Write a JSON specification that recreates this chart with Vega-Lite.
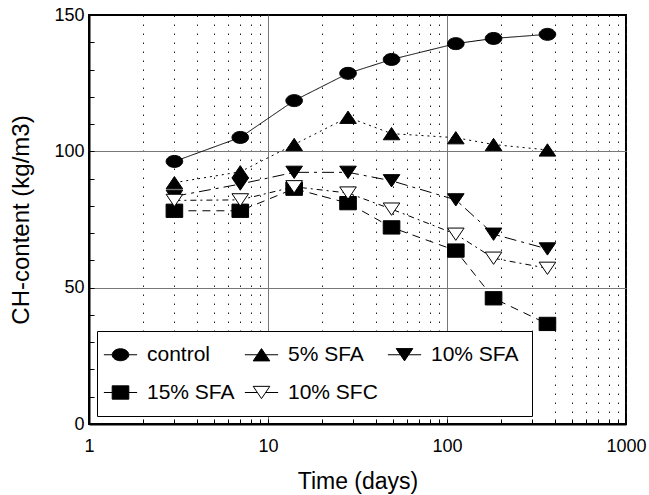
{
  "$schema": "https://vega.github.io/schema/vega-lite/v6.json",
  "width": 537,
  "height": 409,
  "autosize": {"type": "none"},
  "padding": {"left": 89, "top": 15, "right": 23, "bottom": 71},
  "background": "white",
  "config": {
    "font": "Liberation Sans",
    "view": {"stroke": "black", "strokeWidth": 2},
    "axis": {
      "labelFont": "Liberation Sans",
      "titleFont": "Liberation Sans",
      "labelColor": "black",
      "titleColor": "black",
      "labelFontSize": 18,
      "titleFontSize": 23,
      "titleFontWeight": "normal",
      "domainColor": "black",
      "domainWidth": 2,
      "tickColor": "black"
    },
    "legend": {
      "labelFont": "Liberation Sans",
      "labelFontSize": 21,
      "labelColor": "black",
      "title": null,
      "orient": "bottom-left",
      "offset": 8,
      "direction": "horizontal",
      "columns": 3,
      "strokeColor": "black",
      "fillColor": "white",
      "padding": 13,
      "rowPadding": 16,
      "columnPadding": 7,
      "labelOffset": 16,
      "symbolSize": 276,
      "symbolStrokeColor": "black",
      "symbolStrokeWidth": 1
    }
  },
  "data": {
    "values": [
      {"series": "control", "day": 3, "value": 96.3},
      {"series": "control", "day": 7, "value": 105.1},
      {"series": "control", "day": 14, "value": 118.6},
      {"series": "control", "day": 28, "value": 128.6},
      {"series": "control", "day": 49, "value": 133.7},
      {"series": "control", "day": 112, "value": 139.5},
      {"series": "control", "day": 182, "value": 141.4},
      {"series": "control", "day": 364, "value": 142.9},
      {"series": "5% SFA", "day": 3, "value": 88.5},
      {"series": "5% SFA", "day": 7, "value": 92.5},
      {"series": "5% SFA", "day": 14, "value": 102.5},
      {"series": "5% SFA", "day": 28, "value": 112.5},
      {"series": "5% SFA", "day": 49, "value": 106.5},
      {"series": "5% SFA", "day": 112, "value": 105},
      {"series": "5% SFA", "day": 182, "value": 102.5},
      {"series": "5% SFA", "day": 364, "value": 100.5},
      {"series": "10% SFA", "day": 3, "value": 83.5},
      {"series": "10% SFA", "day": 7, "value": 88},
      {"series": "10% SFA", "day": 14, "value": 92.3},
      {"series": "10% SFA", "day": 28, "value": 92.3},
      {"series": "10% SFA", "day": 49, "value": 89.2},
      {"series": "10% SFA", "day": 112, "value": 82.2},
      {"series": "10% SFA", "day": 182, "value": 69.6},
      {"series": "10% SFA", "day": 364, "value": 64.2},
      {"series": "15% SFA", "day": 3, "value": 78.2},
      {"series": "15% SFA", "day": 7, "value": 78.2},
      {"series": "15% SFA", "day": 14, "value": 86.3},
      {"series": "15% SFA", "day": 28, "value": 81},
      {"series": "15% SFA", "day": 49, "value": 72.1},
      {"series": "15% SFA", "day": 112, "value": 63.6},
      {"series": "15% SFA", "day": 182, "value": 46.1},
      {"series": "15% SFA", "day": 364, "value": 36.7},
      {"series": "10% SFC", "day": 3, "value": 82},
      {"series": "10% SFC", "day": 7, "value": 82.2},
      {"series": "10% SFC", "day": 14, "value": 87},
      {"series": "10% SFC", "day": 28, "value": 84.7},
      {"series": "10% SFC", "day": 49, "value": 78.8},
      {"series": "10% SFC", "day": 112, "value": 69.6},
      {"series": "10% SFC", "day": 182, "value": 60.8},
      {"series": "10% SFC", "day": 364, "value": 57.1}
    ]
  },
  "encoding": {
    "x": {
      "field": "day",
      "type": "quantitative",
      "scale": {"type": "log", "domain": [1, 1000], "nice": false},
      "axis": {
        "title": "Time (days)",
        "titlePadding": 15,
        "values": [1,2,3,4,5,6,7,8,9,10,20,30,40,50,60,70,80,90,100,200,300,400,500,600,700,800,900,1000],
        "labelExpr": "(datum.value == 1 || datum.value == 10 || datum.value == 100 || datum.value == 1000) ? datum.value : ''",
        "labelPadding": 18,
        "labelFlush": false,
        "labelOverlap": false,
        "tickSize": -5,
        "grid": true,
        "gridColor": {"condition": {"test": "datum.value == 10 || datum.value == 100", "value": "#777777"}, "value": "#222222"},
        "gridDash": {"condition": {"test": "datum.value == 10 || datum.value == 100", "value": []}, "value": [1.5, 7.5]},
        "gridWidth": 1
      }
    },
    "y": {
      "field": "value",
      "type": "quantitative",
      "scale": {"domain": [0, 150], "nice": false},
      "axis": {
        "title": "CH-content (kg/m3)",
        "titleFontSize": 24,
        "titlePadding": 20,
        "values": [0,10,20,30,40,50,60,70,80,90,100,110,120,130,140,150],
        "labelExpr": "datum.value % 50 == 0 ? datum.label : ''",
        "labelPadding": 10,
        "labelFlush": false,
        "labelOverlap": false,
        "tickSize": -5,
        "grid": true,
        "gridColor": "#777777",
        "gridOpacity": {"condition": {"test": "datum.value == 50 || datum.value == 100", "value": 1}, "value": 0}
      }
    }
  },
  "resolve": {"scale": {"shape": "independent", "fill": "independent", "stroke": "independent"}},
  "layer": [
    {
      "mark": {"type": "line", "color": "black", "strokeWidth": 1},
      "encoding": {
        "strokeDash": {
          "field": "series",
          "type": "nominal",
          "scale": {
            "domain": ["10% SFA", "10% SFC", "15% SFA", "5% SFA", "control"],
            "range": [[12, 5, 3, 5], [6, 4, 2, 4], [8, 6], [2, 4], [1, 0]]
          },
          "legend": null
        }
      }
    },
    {
      "mark": {"type": "point", "filled": true, "stroke": "black", "strokeWidth": 1, "opacity": 1, "size": 276},
      "encoding": {
        "shape": {
          "field": "series",
          "type": "nominal",
          "scale": {
            "domain": ["control", "5% SFA", "10% SFA", "15% SFA", "10% SFC"],
            "range": [
              "M-1,0A1,0.72,0,1,1,1,0A1,0.72,0,1,1,-1,0Z",
              "M0,-0.74L1,0.74L-1,0.74Z",
              "M0,0.74L1,-0.74L-1,-0.74Z",
              "M-1,-0.8H1V0.8H-1Z",
              "M0,0.74L1,-0.74L-1,-0.74Z"
            ]
          },
          "legend": null
        },
        "fill": {
          "field": "series",
          "type": "nominal",
          "scale": {
            "domain": ["control", "5% SFA", "10% SFA", "15% SFA", "10% SFC"],
            "range": ["black", "black", "black", "black", "white"]
          },
          "legend": null
        }
      }
    },
    {
      "transform": [{"filter": "datum.day < 0"}],
      "mark": {"type": "point", "filled": true, "strokeWidth": 1, "opacity": 1, "size": 276},
      "encoding": {
        "shape": {
          "field": "series",
          "type": "nominal",
          "scale": {
            "domain": ["control", "5% SFA", "10% SFA", "15% SFA", "10% SFC"],
            "range": [
              "M-2,0H-1M1,0H2M-1,0A1,0.72,0,1,1,1,0A1,0.72,0,1,1,-1,0Z",
              "M-2,0H-0.5M0.5,0H2M0,-0.74L1,0.74L-1,0.74Z",
              "M-2,0H-0.5M0.5,0H2M0,0.74L1,-0.74L-1,-0.74Z",
              "M-2,0H-1M1,0H2M-1,-0.8H1V0.8H-1Z",
              "M-2,0H-0.5M0.5,0H2M0,0.74L1,-0.74L-1,-0.74Z"
            ]
          }
        },
        "fill": {
          "field": "series",
          "type": "nominal",
          "scale": {
            "domain": ["control", "5% SFA", "10% SFA", "15% SFA", "10% SFC"],
            "range": ["black", "black", "black", "black", "white"]
          }
        },
        "stroke": {
          "field": "series",
          "type": "nominal",
          "scale": {
            "domain": ["control", "5% SFA", "10% SFA", "15% SFA", "10% SFC"],
            "range": ["black", "black", "black", "black", "black"]
          }
        }
      }
    }
  ]
}
